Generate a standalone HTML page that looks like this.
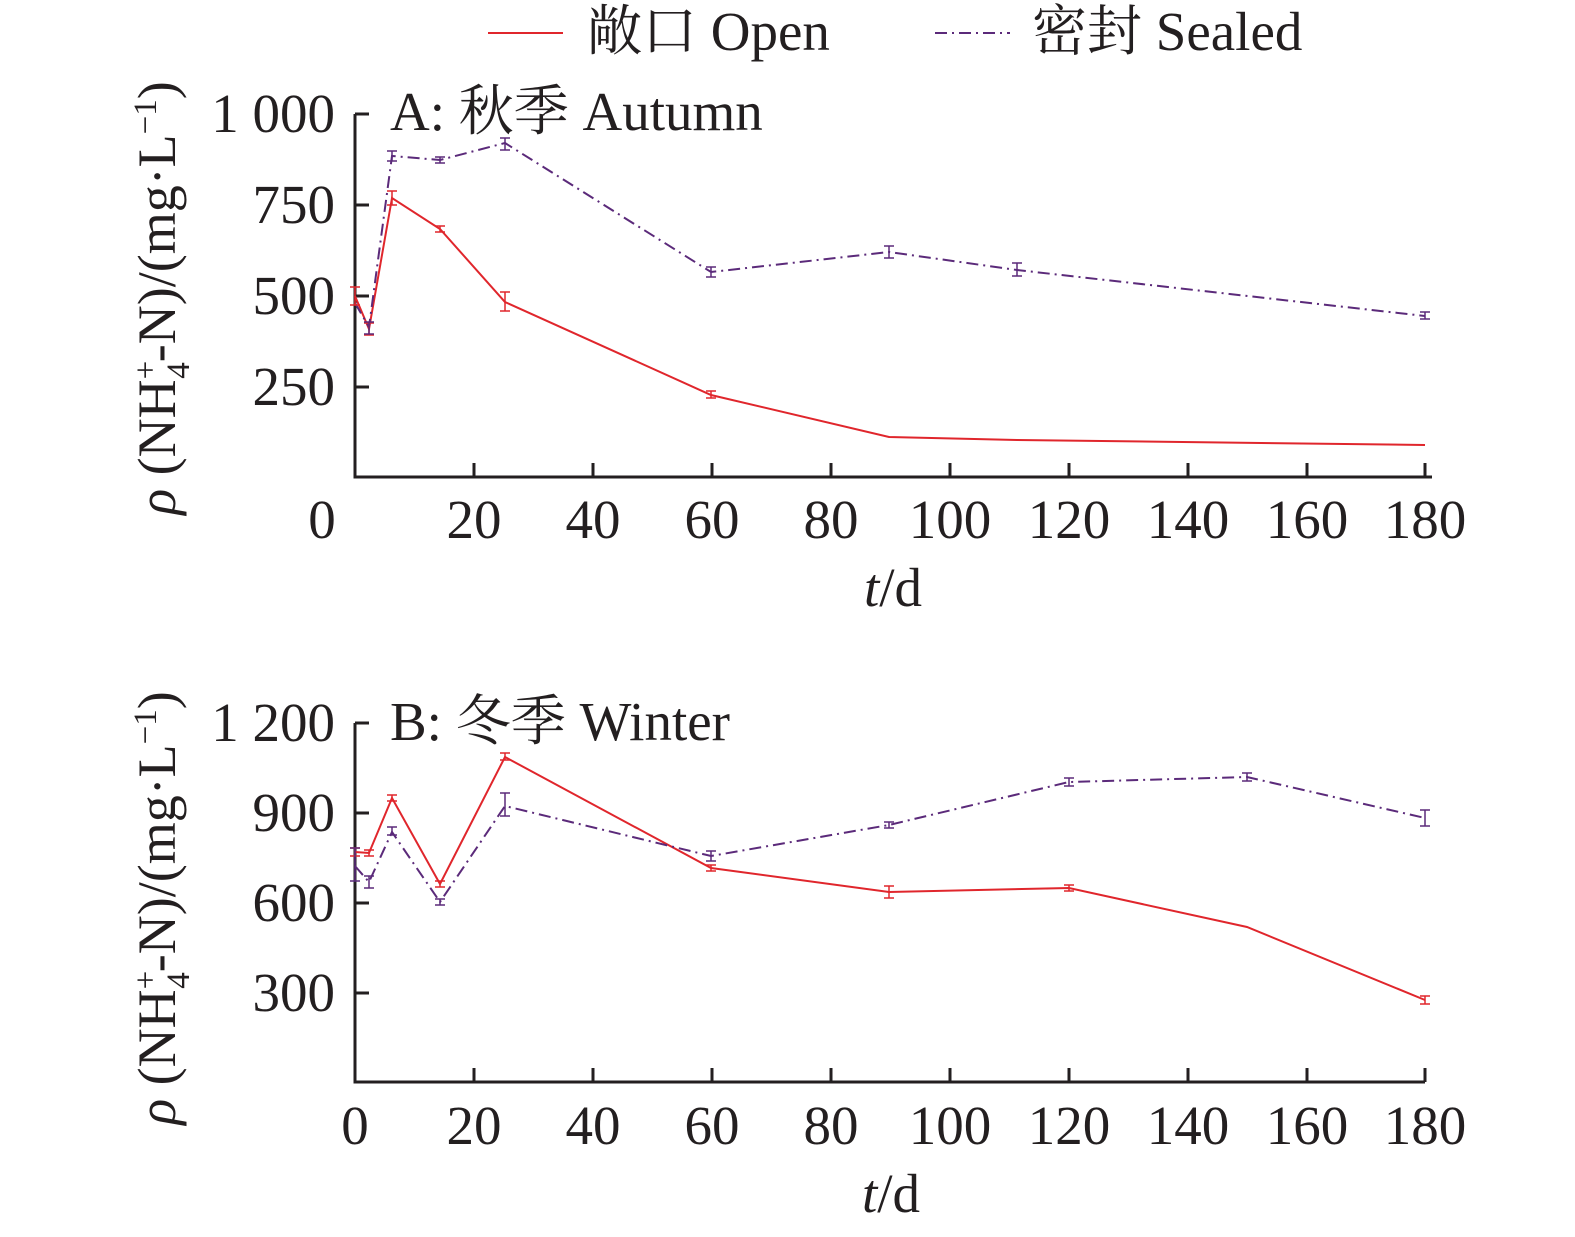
<!DOCTYPE html>
<html><head><meta charset="utf-8"><style>
body{margin:0;background:#fff}
text{font-family:"Liberation Serif","Noto Serif CJK SC",serif;fill:#231f20}
</style></head><body>
<svg width="1575" height="1232" viewBox="0 0 1575 1232" xmlns="http://www.w3.org/2000/svg">
<!-- legend -->
<line x1="488" y1="33" x2="563" y2="33" stroke="#e0262c" stroke-width="2"/>
<text x="587" y="50" font-size="55">敞口 Open</text>
<line x1="935" y1="33" x2="1010" y2="33" stroke="#5b2a7a" stroke-width="2" stroke-dasharray="12,5,2,5"/>
<text x="1032" y="50" font-size="55">密封 Sealed</text>

<!-- Panel A -->
<g stroke="#231f20" stroke-width="3" fill="none">
<path d="M355,114 V477 H1432"/>
<path d="M355,114 h14 M355,205 h14 M355,296 h14 M355,387 h14"/>
<path d="M474,477 v-14 M593,477 v-14 M712,477 v-14 M831,477 v-14 M950,477 v-14 M1069,477 v-14 M1188,477 v-14 M1307,477 v-14 M1425,477 v-14"/>
</g>
<g font-size="55" text-anchor="end">
<text x="335" y="132">1 000</text><text x="335" y="223">750</text><text x="335" y="314">500</text><text x="335" y="405">250</text>
</g>
<g font-size="55" text-anchor="middle">
<text x="322" y="538">0</text><text x="474" y="538">20</text><text x="593" y="538">40</text><text x="712" y="538">60</text><text x="831" y="538">80</text><text x="950" y="538">100</text><text x="1069" y="538">120</text><text x="1188" y="538">140</text><text x="1307" y="538">160</text><text x="1425" y="538">180</text>
<text x="893" y="606"><tspan font-style="italic">t</tspan>/d</text>
</g>
<text x="390" y="130" font-size="55">A: 秋季 Autumn</text>
<text transform="translate(175,298) rotate(-90)" font-size="54" text-anchor="middle"><tspan font-style="italic">ρ</tspan> (NH<tspan font-size="33" dy="-19">+</tspan><tspan font-size="33" dx="-18" dy="33">4</tspan><tspan dy="-14">-N)/(mg·L</tspan><tspan font-size="33" dy="-19">−1</tspan><tspan dy="19">)</tspan></text>
<polyline fill="none" stroke="#e0262c" stroke-width="2" points="355,296 369,329 392,198 440,229 505,302 711,395 889,437 1017,440 1425,445"/>
<polyline fill="none" stroke="#5b2a7a" stroke-width="2" stroke-dasharray="12,5,2,5" points="355,303 369,327 392,156 440,160 505,143 711,272 889,252 1017,270 1425,316"/>
<g stroke="#e0262c" stroke-width="1.5">
<path d="M355,287v18M350,287h10M350,305h10 M369,323v12M364,323h10M364,335h10 M392,191v14M387,191h10M387,205h10 M440,226v6M435,226h10M435,232h10 M505,292v19M500,292h10M500,311h10 M711,391v7M706,391h10M706,398h10"/>
</g>
<g stroke="#5b2a7a" stroke-width="1.5">
<path d="M369,322v12M364,322h10M364,334h10 M392,151v10M387,151h10M387,161h10 M440,157v6M435,157h10M435,163h10 M505,138v12M500,138h10M500,150h10 M711,267v10M706,267h10M706,277h10 M889,246v12M884,246h10M884,258h10 M1017,263v13M1012,263h10M1012,276h10 M1425,312v7M1420,312h10M1420,319h10"/>
</g>

<!-- Panel B -->
<g stroke="#231f20" stroke-width="3" fill="none">
<path d="M355,723 V1082 H1425"/>
<path d="M355,723 h14 M355,813 h14 M355,903 h14 M355,993 h14"/>
<path d="M474,1082 v-14 M593,1082 v-14 M712,1082 v-14 M831,1082 v-14 M950,1082 v-14 M1069,1082 v-14 M1188,1082 v-14 M1307,1082 v-14 M1425,1082 v-14"/>
</g>
<g font-size="55" text-anchor="end">
<text x="335" y="741">1 200</text><text x="335" y="831">900</text><text x="335" y="921">600</text><text x="335" y="1011">300</text>
</g>
<g font-size="55" text-anchor="middle">
<text x="355" y="1144">0</text><text x="474" y="1144">20</text><text x="593" y="1144">40</text><text x="712" y="1144">60</text><text x="831" y="1144">80</text><text x="950" y="1144">100</text><text x="1069" y="1144">120</text><text x="1188" y="1144">140</text><text x="1307" y="1144">160</text><text x="1425" y="1144">180</text>
<text x="891" y="1212"><tspan font-style="italic">t</tspan>/d</text>
</g>
<text x="390" y="740" font-size="55">B: 冬季 Winter</text>
<text transform="translate(175,908) rotate(-90)" font-size="54" text-anchor="middle"><tspan font-style="italic">ρ</tspan> (NH<tspan font-size="33" dy="-19">+</tspan><tspan font-size="33" dx="-18" dy="33">4</tspan><tspan dy="-14">-N)/(mg·L</tspan><tspan font-size="33" dy="-19">−1</tspan><tspan dy="19">)</tspan></text>
<polyline fill="none" stroke="#e0262c" stroke-width="2" points="355,852 369,853 392,798 440,884 505,757 711,868 889,892 1069,888 1247,927 1425,1000"/>
<polyline fill="none" stroke="#5b2a7a" stroke-width="2" stroke-dasharray="12,5,2,5" points="355,866 369,882 392,832 440,902 505,806 711,856 889,825 1069,782 1247,777 1425,818"/>
<g stroke="#e0262c" stroke-width="1.5">
<path d="M355,848v8M350,848h10M350,856h10 M369,850v6M364,850h10M364,856h10 M392,795v6M387,795h10M387,801h10 M440,881v6M435,881h10M435,887h10 M505,753v7M500,753h10M500,760h10 M711,865v6M706,865h10M706,871h10 M889,886v12M884,886h10M884,898h10 M1069,885v6M1064,885h10M1064,891h10 M1425,996v8M1420,996h10M1420,1004h10"/>
</g>
<g stroke="#5b2a7a" stroke-width="1.5">
<path d="M355,848v33M350,848h10M350,881h10 M369,876v12M364,876h10M364,888h10 M392,827v8M387,827h10M387,835h10 M440,899v6M435,899h10M435,905h10 M505,793v23M500,793h10M500,816h10 M711,851v10M706,851h10M706,861h10 M889,822v6M884,822h10M884,828h10 M1069,778v8M1064,778h10M1064,786h10 M1247,773v8M1242,773h10M1242,781h10 M1425,810v16M1420,810h10M1420,826h10"/>
</g>
</svg>
</body></html>
